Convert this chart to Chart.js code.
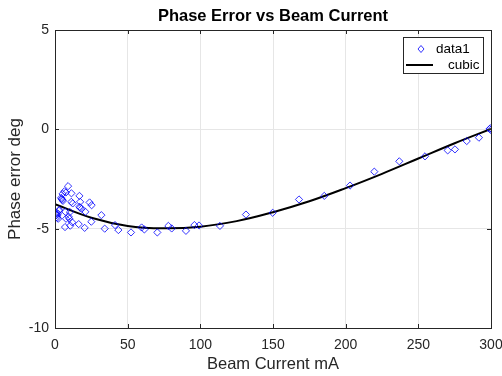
<!DOCTYPE html>
<html>
<head>
<meta charset="utf-8">
<script src="https://cdn.jsdelivr.net/npm/chart.js@4"></script>
<style>
  body { margin: 0; background: #fff; }
  #wrap { width: 502px; height: 376px; }
</style>
</head>
<body>
<div id="wrap"><canvas id="phase-chart"></canvas></div>
<script>
// measured points (data1)
const currentMA = [
  9.0, 6.5, 7.5, 11.3, 5.2, 16.8, 4.2, 4.6, 5.0, 5.5, 11.2, 17.3, 12.2, 23.8, 25.2,
  17.3, 18.4, 16.8, 20.9, 2.7, 3.0, 7.1, 10.3, 2.0, 1.6, 1.2, 1.0, 1.5, 2.2,
  9.4, 9.9, 7.6, 31.9, 25.0, 11.8, 16.3, 20.4, 6.9, 10.5, 34.2,
  41.3, 43.6, 52.3, 59.6, 61.5, 70.4, 78.0, 80.3, 90.1, 95.9, 99.1, 113.5,
  131.4, 149.8, 167.9, 185.3, 203.0, 219.7, 236.9, 254.6, 270.2, 275.2,
  283.3, 291.7, 299.0, 300.0, 299.6
]
const phaseErr = [
  -2.86, -3.12, -3.18, -3.22, -3.25, -3.35, -3.45, -3.5, -3.55, -3.6, -3.65, -3.65, -3.73, -3.68, -3.82,
  -3.95, -4.0, -3.9, -4.15, -4.1, -4.05, -4.15, -4.16, -4.25, -4.35, -4.2, -4.3, -4.45, -4.5,
  -4.4, -4.5, -4.5, -4.32, -4.65, -4.68, -4.77, -4.96, -4.92, -4.85, -5.0,
  -4.82, -5.07, -5.19, -4.94, -5.04, -5.19, -4.86, -4.99, -5.11, -4.82, -4.84, -4.86,
  -4.29, -4.2, -3.53, -3.35, -2.83, -2.13, -1.61, -1.36, -1.06, -1.01,
  -0.59, -0.42, 0.02, -0.03, 0.05
]

// cubic fit curve
const fitCurrent = [0, 25, 50, 75, 100, 125, 150, 175, 200, 225, 250, 275, 300]
const fitPhase = [-3.77, -4.45, -4.86, -4.98, -4.9, -4.62, -4.17, -3.62, -2.96, -2.24, -1.47, -0.7, 0.02]

const xTicks = [0, 50, 100, 150, 200, 250, 300]
const yTicks = [-10, -5, 0, 5]

const FONT = 'Liberation Sans, Arial, sans-serif'
const AXIS_COLOR = '#262626'

// MATLAB-ish box, inner tick marks and legend inside the axes
const matlabBox = {
  id: 'matlabBox',
  afterDatasetsDraw(chart) {
    const { ctx, chartArea: a, scales } = chart
    ctx.save()
    ctx.strokeStyle = AXIS_COLOR
    ctx.lineWidth = 1
    ctx.beginPath()
    xTicks.forEach(v => {
      const px = Math.round(scales.x.getPixelForValue(v)) + 0.5
      ctx.moveTo(px, a.bottom); ctx.lineTo(px, a.bottom - 4)
      ctx.moveTo(px, a.top); ctx.lineTo(px, a.top + 4)
    })
    yTicks.forEach(v => {
      const py = Math.round(scales.y.getPixelForValue(v)) + 0.5
      ctx.moveTo(a.left, py); ctx.lineTo(a.left + 4, py)
      ctx.moveTo(a.right, py); ctx.lineTo(a.right - 4, py)
    })
    ctx.stroke()
    ctx.strokeRect(Math.round(a.left) + 0.5, Math.round(a.top) + 0.5,
      Math.round(a.right - a.left), Math.round(a.bottom - a.top))

    // legend
    const bx = a.right - 88, by = a.top + 7, bw = 80, bh = 36
    ctx.fillStyle = '#fff'
    ctx.fillRect(bx, by, bw, bh)
    ctx.strokeStyle = AXIS_COLOR
    ctx.strokeRect(bx + 0.5, by + 0.5, bw, bh)

    const pts = chart.data.datasets[0]
    ctx.strokeStyle = pts.borderColor
    ctx.lineWidth = 1
    const mx = bx + 18, my = by + 12
    ctx.beginPath()
    ctx.moveTo(mx, my - 3.5); ctx.lineTo(mx + 3, my); ctx.lineTo(mx, my + 3.5); ctx.lineTo(mx - 3, my); ctx.closePath()
    ctx.stroke()

    const line = chart.data.datasets[1]
    ctx.strokeStyle = line.borderColor
    ctx.lineWidth = 2
    ctx.beginPath()
    ctx.moveTo(bx + 3, by + 28); ctx.lineTo(bx + 30, by + 28)
    ctx.stroke()

    ctx.fillStyle = '#000'
    ctx.font = '13.5px ' + FONT
    ctx.textBaseline = 'middle'
    ctx.fillText(pts.label, bx + 33, my)
    ctx.fillText(line.label, bx + 45, by + 28)
    ctx.restore()
  }
}

new Chart(document.querySelector('#phase-chart'), {
  type: 'scatter',
  data: {
    datasets: [{
      label: 'data1',
      data: currentMA.map((x, i) => ({ x, y: phaseErr[i] })),
      pointStyle: 'rectRot',
      pointRadius: 3.6,
      borderColor: 'rgba(0, 0, 255, 0.8)',
      backgroundColor: 'rgba(0, 0, 0, 0)',
      borderWidth: 1
    }, {
      label: 'cubic',
      type: 'line',
      data: fitCurrent.map((x, i) => ({ x, y: fitPhase[i] })),
      borderColor: '#000',
      borderWidth: 2,
      pointRadius: 0,
      tension: 0.4,
      fill: false
    }]
  },
  options: {
    responsive: true,
    maintainAspectRatio: false,
    animation: false,
    layout: { padding: { left: 0, right: 11, top: 0, bottom: 0 } },
    plugins: {
      legend: { display: false },
      tooltip: { enabled: false },
      title: {
        display: true,
        text: 'Phase Error vs Beam Current',
        fullSize: false,
        color: '#000',
        font: { family: FONT, size: 16.5, weight: 'bold' },
        padding: { top: 6.3, bottom: 3.9 }
      }
    },
    scales: {
      x: {
        type: 'linear',
        min: 0,
        max: 300,
        afterBuildTicks: s => { s.ticks = xTicks.map(value => ({ value })) },
        afterFit: s => { s.height = 48; s.paddingLeft = 0; s.paddingRight = 0 },
        ticks: { color: AXIS_COLOR, font: { family: FONT, size: 14 }, padding: 9, maxRotation: 0 },
        grid: { color: '#e6e6e6', drawTicks: false },
        border: { display: false },
        title: {
          display: true,
          text: 'Beam Current mA',
          color: AXIS_COLOR,
          font: { family: FONT, size: 16.5 },
          padding: { top: 0, bottom: 2 }
        }
      },
      y: {
        min: -10,
        max: 5,
        afterBuildTicks: s => { s.ticks = yTicks.map(value => ({ value })) },
        afterFit: s => { s.width = 55; s.paddingTop = 0; s.paddingBottom = 0 },
        ticks: { color: AXIS_COLOR, font: { family: FONT, size: 14 }, padding: 6 },
        grid: { color: '#e6e6e6', drawTicks: false },
        border: { display: false },
        title: {
          display: true,
          text: 'Phase error deg',
          color: AXIS_COLOR,
          font: { family: FONT, size: 17 },
          padding: { top: 5, bottom: 0 }
        }
      }
    }
  },
  plugins: [matlabBox]
})
</script>
</body>
</html>
